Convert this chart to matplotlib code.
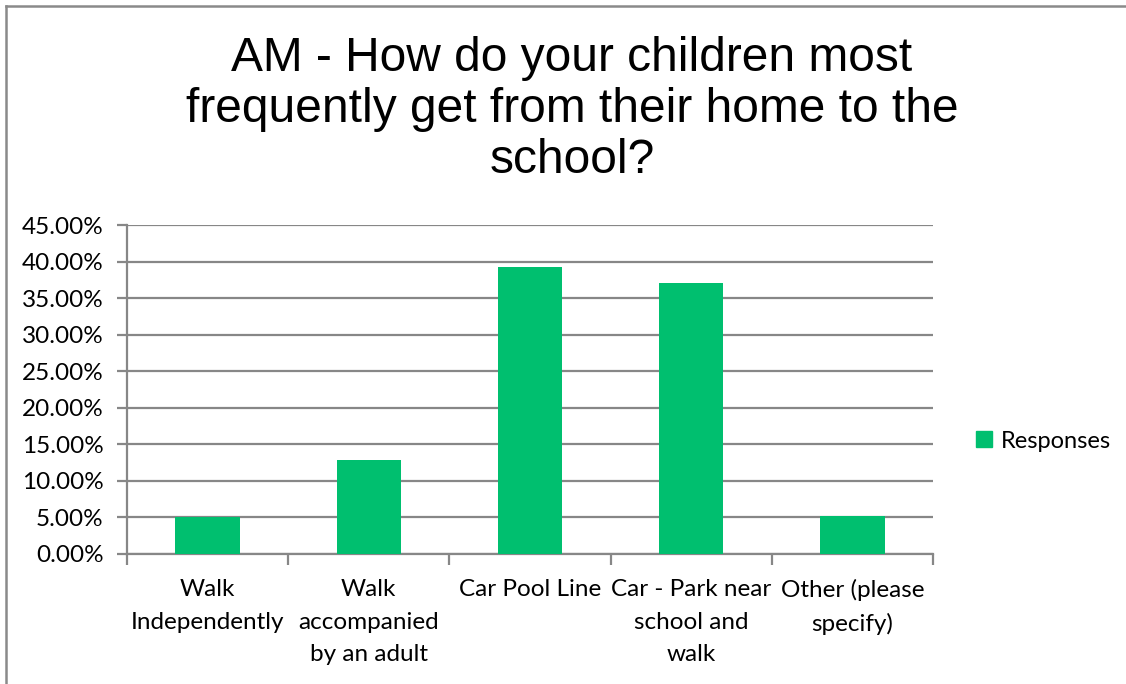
import matplotlib
matplotlib.use("Agg")
import matplotlib.pyplot as plt
from matplotlib.lines import Line2D
from matplotlib.ticker import FuncFormatter, MultipleLocator

categories = ["Walk\nIndependently", "Walk\naccompanied\nby an adult", "Car Pool Line",
              "Car - Park near\nschool and\nwalk", "Other (please\nspecify)"]
responses = [0.050, 0.129, 0.392, 0.370, 0.052]
title = "AM - How do your children most\nfrequently get from their home to the\nschool?"
series_name = "Responses"

W, H = 1126, 684
fig = plt.figure(figsize=(W / 100, H / 100), dpi=100)
fig.patch.set_facecolor("white")

grid_c = "#878787"
green = "#00BF6F"
lab_font = "Lato"
fs = 17.5

ax = fig.add_axes([127 / W, 1 - 554 / H, (933 - 127) / W, (554 - 225) / H])
x = list(range(len(categories)))
bars = ax.bar(x, responses, width=0.4, color=green, label=series_name, zorder=3)
ax.set_xlim(-0.5, len(categories) - 0.5)
ax.set_ylim(0, 0.45)
ax.yaxis.set_major_locator(MultipleLocator(0.05))
ax.yaxis.set_major_formatter(FuncFormatter(lambda v, p: f"{v*100:.2f}%"))
ax.grid(axis="y", color=grid_c, linewidth=1.6, zorder=0)
for s in ["top", "right"]:
    ax.spines[s].set_visible(False)
for s in ["left", "bottom"]:
    ax.spines[s].set_color(grid_c)
    ax.spines[s].set_linewidth(1.6)

ax.set_xticks(x)
ax.set_xticklabels(categories, fontfamily=lab_font, fontsize=fs, linespacing=1.68)
ax.tick_params(axis="x", length=0, pad=18)
ax.set_xticks([i - 0.5 for i in range(len(categories) + 1)], minor=True)
ax.tick_params(axis="x", which="minor", length=8, width=1.6, color=grid_c)
ax.tick_params(axis="y", length=7, width=1.6, color=grid_c, pad=10)
for t in ax.get_yticklabels():
    t.set_fontfamily(lab_font)
    t.set_fontsize(fs)
for t in ax.get_xticklabels():
    t.set_verticalalignment("top")

fig.text(0.5 + 9 / W, 1 - 36 / H, title, ha="center", va="top",
         fontfamily="Liberation Sans", fontsize=34.5, linespacing=1.17)

leg = fig.legend(handles=[plt.Rectangle((0, 0), 1, 1, color=green)], labels=[series_name],
                 loc="center left", bbox_to_anchor=(955 / W, 1 - 441 / H), frameon=False,
                 prop={"family": lab_font, "size": 17}, handlelength=0.65, handleheight=0.65,
                 handletextpad=0.4)

fig.add_artist(Line2D([5.5 / W, 1], [1 - 5.5 / H, 1 - 5.5 / H], color="#8a8a8a", linewidth=1.8))
fig.add_artist(Line2D([5.5 / W, 5.5 / W], [0, 1 - 5.5 / H], color="#8a8a8a", linewidth=1.8))

fig.savefig("out.png", dpi=100, facecolor="white")
